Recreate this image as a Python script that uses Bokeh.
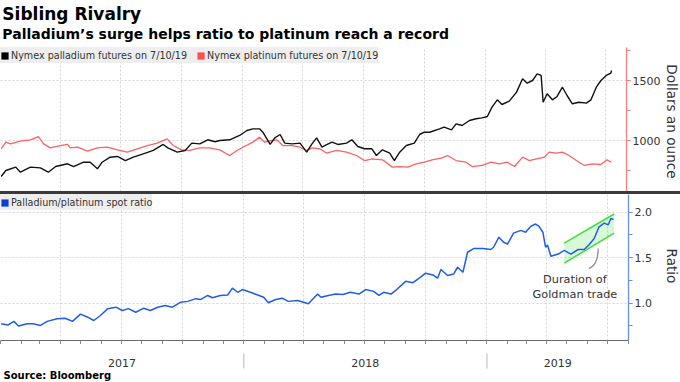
from datetime import datetime
from math import pi, nan
import pandas as pd
from bokeh.plotting import figure
from bokeh.models import (Range1d, ColumnDataSource, FixedTicker, SingleIntervalTicker,
                          Legend, LegendItem, Div, NumeralTickFormatter)
from bokeh.layouts import column, row
from bokeh.embed import file_html
from bokeh.resources import INLINE
from bokeh.core.properties import value

# ---------------- data ----------------
pd_dates = ["2017-01-02", "2017-01-09", "2017-01-24", "2017-01-31", "2017-02-15", "2017-03-02",
            "2017-03-14", "2017-03-25", "2017-04-12", "2017-04-21", "2017-05-06", "2017-05-16",
            "2017-05-27", "2017-06-03", "2017-06-15", "2017-06-26", "2017-07-08", "2017-07-20",
            "2017-08-04", "2017-08-19", "2017-09-03", "2017-09-10", "2017-09-24", "2017-10-06",
            "2017-10-16", "2017-10-28", "2017-11-09", "2017-11-20", "2017-11-27", "2017-12-12",
            "2017-12-27", "2018-01-07", "2018-01-16", "2018-01-26", "2018-01-31", "2018-02-11",
            "2018-02-18", "2018-02-26", "2018-03-05", "2018-03-16", "2018-03-28", "2018-04-07",
            "2018-04-15", "2018-04-22", "2018-04-30", "2018-05-04", "2018-05-15", "2018-05-24",
            "2018-06-06", "2018-06-14", "2018-06-23", "2018-07-03", "2018-07-14", "2018-07-21",
            "2018-07-30", "2018-08-10", "2018-08-17", "2018-08-25", "2018-09-04", "2018-09-16",
            "2018-09-24", "2018-10-01", "2018-10-09", "2018-10-24", "2018-10-31", "2018-11-11",
            "2018-11-18", "2018-11-27", "2018-12-08", "2018-12-18", "2018-12-27", "2019-01-04",
            "2019-01-11", "2019-01-19", "2019-01-26", "2019-02-06", "2019-02-17", "2019-02-26",
            "2019-03-05", "2019-03-13", "2019-03-20", "2019-03-26", "2019-03-29", "2019-04-04",
            "2019-04-12", "2019-04-19", "2019-04-27", "2019-05-04", "2019-05-12", "2019-05-22",
            "2019-06-02", "2019-06-09", "2019-06-17", "2019-06-24", "2019-07-02", "2019-07-09",
            "2019-07-10"]
pd_values = [700, 750, 778, 736, 778, 772, 736, 783, 806, 783, 819, 819,
             764, 819, 861, 867, 833, 861, 889, 917, 967, 939, 903, 917,
             978, 972, 1006, 990, 1000, 1006, 1042, 1083, 1097, 1097, 1069, 967,
             1022, 1050, 978, 972, 978, 903, 972, 1022, 944, 958, 986, 967,
             978, 1006, 950, 931, 931, 875, 922, 894, 833, 903, 958, 978,
             1050, 1069, 1069, 1097, 1111, 1089, 1139, 1125, 1167, 1181, 1189, 1200,
             1278, 1339, 1300, 1328, 1403, 1514, 1478, 1500, 1556, 1542, 1319, 1389,
             1339, 1367, 1444, 1375, 1306, 1319, 1311, 1339, 1444, 1500, 1542, 1561,
             1583]

pt_dates = ["2017-01-02", "2017-01-09", "2017-01-16", "2017-01-31", "2017-02-15", "2017-02-27",
            "2017-03-07", "2017-03-17", "2017-04-01", "2017-04-12", "2017-04-16", "2017-04-27",
            "2017-05-12", "2017-05-27", "2017-06-11", "2017-06-26", "2017-07-11", "2017-07-26",
            "2017-08-10", "2017-08-25", "2017-09-09", "2017-09-18", "2017-10-01", "2017-10-13",
            "2017-10-28", "2017-11-12", "2017-11-27", "2017-12-12", "2017-12-23", "2018-01-01",
            "2018-01-16", "2018-01-26", "2018-02-03", "2018-02-14", "2018-02-21", "2018-03-02",
            "2018-03-16", "2018-03-28", "2018-04-07", "2018-04-16", "2018-04-27", "2018-05-07",
            "2018-05-22", "2018-06-06", "2018-06-21", "2018-07-03", "2018-07-15", "2018-07-30",
            "2018-08-14", "2018-08-25", "2018-09-06", "2018-09-19", "2018-10-01", "2018-10-13",
            "2018-10-28", "2018-11-05", "2018-11-18", "2018-12-03", "2018-12-12", "2018-12-27",
            "2019-01-10", "2019-01-22", "2019-02-03", "2019-02-14", "2019-02-26", "2019-03-08",
            "2019-03-19", "2019-03-31", "2019-04-07", "2019-04-18", "2019-04-27", "2019-05-07",
            "2019-05-18", "2019-05-30", "2019-06-11", "2019-06-24", "2019-07-03", "2019-07-10"]
pt_values = [930, 986, 972, 994, 1006, 1033, 972, 939, 958, 967, 939, 944,
             911, 939, 944, 922, 903, 931, 958, 978, 1014, 958, 922, 917,
             939, 939, 922, 875, 917, 944, 986, 1028, 986, 1000, 1006, 958,
             958, 944, 917, 939, 931, 894, 917, 903, 875, 833, 847, 839,
             778, 783, 778, 806, 819, 839, 856, 875, 833, 819, 783, 792,
             819, 806, 819, 783, 861, 833, 847, 861, 903, 894, 903, 875,
             833, 792, 806, 800, 839, 819]

ratio_dates = ["2017-01-02", "2017-01-12", "2017-01-21", "2017-01-28", "2017-02-10", "2017-02-19",
               "2017-03-02", "2017-03-12", "2017-03-27", "2017-04-08", "2017-04-19", "2017-05-01",
               "2017-05-12", "2017-05-21", "2017-05-31", "2017-06-11", "2017-06-23", "2017-07-03",
               "2017-07-12", "2017-07-23", "2017-08-04", "2017-08-14", "2017-08-25", "2017-09-05",
               "2017-09-16", "2017-09-28", "2017-10-09", "2017-10-21", "2017-10-28", "2017-11-08",
               "2017-11-15", "2017-11-27", "2017-12-08", "2017-12-15", "2017-12-23", "2017-12-30",
               "2018-01-11", "2018-01-22", "2018-01-31", "2018-02-07", "2018-02-18", "2018-02-28",
               "2018-03-09", "2018-03-23", "2018-04-01", "2018-04-08", "2018-04-22", "2018-04-27",
               "2018-05-08", "2018-05-19", "2018-05-30", "2018-06-10", "2018-06-23", "2018-07-03",
               "2018-07-15", "2018-07-23", "2018-07-30", "2018-08-10", "2018-08-17", "2018-09-01",
               "2018-09-12", "2018-09-24", "2018-10-01", "2018-10-12", "2018-10-19", "2018-10-24",
               "2018-11-03", "2018-11-12", "2018-11-18", "2018-11-26", "2018-12-03", "2018-12-12",
               "2018-12-26", "2019-01-07", "2019-01-11", "2019-01-19", "2019-01-26", "2019-02-01",
               "2019-02-10", "2019-02-21", "2019-02-28", "2019-03-08", "2019-03-15", "2019-03-20",
               "2019-03-26", "2019-03-30", "2019-04-02", "2019-04-07", "2019-04-18", "2019-04-27",
               "2019-05-07", "2019-05-18", "2019-05-27", "2019-06-03", "2019-06-11", "2019-06-18",
               "2019-06-26", "2019-07-02", "2019-07-06", "2019-07-10"]
ratio_values = [0.774, 0.76, 0.80, 0.75, 0.774, 0.774, 0.755, 0.80, 0.83, 0.835, 0.80, 0.88,
                0.846, 0.81, 0.865, 0.94, 0.956, 0.92, 0.94, 0.90, 0.945, 0.92, 0.956, 0.975,
                0.956, 1.01, 1.02, 1.05, 1.04, 1.085, 1.06, 1.085, 1.09, 1.165, 1.12, 1.15,
                1.12, 1.09, 1.065, 1.005, 1.04, 1.055, 1.02, 1.03, 1.01, 0.993, 1.10, 1.065,
                1.085, 1.10, 1.095, 1.12, 1.10, 1.15, 1.13, 1.085, 1.12, 1.10, 1.14, 1.24,
                1.225, 1.29, 1.33, 1.31, 1.275, 1.37, 1.305, 1.32, 1.395, 1.34, 1.56, 1.60,
                1.60, 1.59, 1.615, 1.725, 1.67, 1.65, 1.77, 1.80, 1.78, 1.846, 1.87, 1.846,
                1.78, 1.615, 1.64, 1.515, 1.54, 1.58, 1.54, 1.59, 1.59, 1.64, 1.71, 1.835,
                1.88, 1.86, 1.93, 1.92]

trade_dates = ["2019-04-27", "2019-07-11"]
trade_upper = [1.66, 1.98]
trade_lower = [1.44, 1.77]

note_lines = ["Duration of", "Goldman trade"]
year_labels = ["2017", "2018", "2019"]

title_text = "Sibling Rivalry"
subtitle_text = "Palladium\u2019s surge helps ratio to platinum reach a record"
source_text = "Source: Bloomberg"
pd_label = "Nymex palladium futures on 7/10/19"
pt_label = "Nymex platinum futures on 7/10/19"
ratio_label = "Palladium/platinum spot ratio"
top_axis_title = "Dollars an ounce"
bot_axis_title = "Ratio"

# ---------------- styling ----------------
FONT = "DejaVu Sans"
TXT = "#333333"
GRID = "#d6d6d6"
PD_COLOR = "#111111"
PT_COLOR = "#ff6060"
RATIO_COLOR = "#1f5ee6"
W = 680          # page width
FRAME_W = 628    # plot area width
SIDE = 17        # strip holding the rotated axis titles
PANEL_W = W - SIDE

x_start = datetime(2017, 1, 1)
x_end = datetime(2019, 8, 1, 12)
xr = Range1d(start=x_start, end=x_end)

month_ticks = [d.timestamp() * 1000 for d in pd.date_range("2017-01-01", "2019-08-01", freq="MS")]
quarter_ticks = [d.timestamp() * 1000 for d in pd.date_range("2017-04-01", "2019-08-01", freq="QS")]

to_dt = lambda lst: pd.to_datetime(pd.Series(lst))


def plain_fig(width, height, xrng, yrng, **kw):
    f = figure(width=width, height=height, x_range=xrng, y_range=yrng,
               output_backend="svg", toolbar_location=None,
               x_axis_location=None, y_axis_location=None, outline_line_color=None,
               background_fill_color="white", border_fill_color="white", **kw)
    f.grid.visible = False
    return f


def style_grid(f):
    f.xgrid.ticker = FixedTicker(ticks=quarter_ticks)
    for g in (f.xgrid[0], f.ygrid[0]):
        g.grid_line_color = GRID
        g.grid_line_dash = "2 2"
        g.grid_line_width = 1


def style_right_axis(ax, color):
    ax.axis_line_color = color
    ax.axis_line_width = 1.3
    ax.major_tick_line_color = color
    ax.minor_tick_line_color = color
    ax.major_tick_in = 0
    ax.major_tick_out = 4
    ax.minor_tick_in = 0
    ax.minor_tick_out = 4
    ax.major_label_standoff = 2
    ax.major_label_text_font = FONT
    ax.major_label_text_font_size = "11px"
    ax.major_label_text_color = TXT


def side_title(text, height, yc):
    f = plain_fig(SIDE, height, Range1d(0, SIDE), Range1d(0, height), min_border=0)
    f.text(x=[8], y=[yc], text=[text], angle=-pi / 2, text_align="center",
           text_baseline="middle", text_font=value(FONT), text_font_size="13.6px",
           text_color=TXT)
    return f


def make_legend(items):
    return Legend(items=items, location="top_left", orientation="horizontal",
                  background_fill_color="#eeeeee", background_fill_alpha=1,
                  border_line_color=None, margin=0, padding=3, spacing=9,
                  glyph_width=9, glyph_height=9, label_standoff=2, label_height=16,
                  label_text_font=FONT, label_text_font_size="9.6px", label_text_color=TXT)


# ---------------- title ----------------
ttl = plain_fig(W, 45, Range1d(0, W), Range1d(0, 45), min_border=0)
ttl.text(x=[2], y=[31.4], text=[title_text], text_font=value(FONT), text_font_style="bold",
         text_font_size="17px", text_color="#000000", text_baseline="middle")
ttl.text(x=[2], y=[11.8], text=[subtitle_text], text_font=value(FONT), text_font_style="bold",
         text_font_size="14px", text_color="#000000", text_baseline="middle")

# ---------------- top panel ----------------
top = figure(width=PANEL_W, height=146, x_range=xr, y_range=Range1d(575, 1775),
             x_axis_type="datetime", x_axis_location=None, y_axis_location="right",
             output_backend="svg", toolbar_location=None, outline_line_color=None,
             min_border_left=0, min_border_right=PANEL_W - FRAME_W,
             min_border_top=2, min_border_bottom=0)
style_grid(top)
top.yaxis.ticker = SingleIntervalTicker(interval=500, num_minor_ticks=2)
style_right_axis(top.yaxis[0], "#ff8080")

src_pt = ColumnDataSource(dict(x=to_dt(pt_dates), y=pt_values))
src_pd = ColumnDataSource(dict(x=to_dt(pd_dates), y=pd_values))
top.line("x", "y", source=src_pt, line_color=PT_COLOR, line_width=1.3)
top.line("x", "y", source=src_pd, line_color=PD_COLOR, line_width=1.4)

# legend swatches (renderers hold no visible mark)
leg_pd = top.quad(left=[nan], right=[nan], top=[nan], bottom=[nan], fill_color="#000000", line_color=None)
leg_pt = top.quad(left=[nan], right=[nan], top=[nan], bottom=[nan], fill_color="#ff5050", line_color=None)
top.add_layout(make_legend([LegendItem(label=pd_label, renderers=[leg_pd]),
                            LegendItem(label=pt_label, renderers=[leg_pt])]))
top_side = side_title(top_axis_title, 146, 71)

# ---------------- separator ----------------
sep = Div(width=W, height=3, margin=0, styles={"background-color": "#3a3a3a"})

# ---------------- bottom panel ----------------
bot = figure(width=PANEL_W, frame_height=146, x_range=xr, y_range=Range1d(0.590, 2.1945),
             x_axis_type="datetime", y_axis_location="right",
             output_backend="svg", toolbar_location=None, outline_line_color=None,
             min_border_left=0, min_border_right=PANEL_W - FRAME_W,
             min_border_top=0, min_border_bottom=0)
style_grid(bot)
bot.yaxis.ticker = SingleIntervalTicker(interval=0.5, num_minor_ticks=2)
bot.yaxis.formatter = NumeralTickFormatter(format="0.0")
style_right_axis(bot.yaxis[0], "#6a8eee")

xa = bot.xaxis[0]
xa.ticker = FixedTicker(ticks=[], minor_ticks=month_ticks)
xa.axis_line_color = "#6a6a6a"
xa.minor_tick_line_color = "#8a8a8a"
xa.major_tick_in = 0
xa.major_tick_out = 4
xa.minor_tick_in = 0
xa.minor_tick_out = 4
xa.major_label_standoff = 0

src_tr = ColumnDataSource(dict(x=to_dt(trade_dates), lo=trade_lower, hi=trade_upper))
bot.varea(x="x", y1="lo", y2="hi", source=src_tr, fill_color="#3fdc3f", fill_alpha=0.2)
bot.line("x", "hi", source=src_tr, line_color="#3ee03e", line_width=1.6)
bot.line("x", "lo", source=src_tr, line_color="#3ee03e", line_width=1.6)

src_r = ColumnDataSource(dict(x=to_dt(ratio_dates), y=ratio_values))
bot.line("x", "y", source=src_r, line_color=RATIO_COLOR, line_width=1.5)

# leader from the channel to the note
bot.quadratic(x0=[datetime(2019, 6, 17)], y0=[1.60], x1=[datetime(2019, 6, 3)], y1=[1.38],
              cx=[datetime(2019, 6, 17)], cy=[1.42], line_color="#8c8c8c", line_width=1.3)
bot.text(x=[datetime(2019, 5, 13)] * 2, y=[1.262, 1.095], text=note_lines,
         text_font=value(FONT), text_font_size="11.3px", text_color=TXT,
         text_align="center", text_baseline="middle")

leg_r = bot.quad(left=[nan], right=[nan], top=[nan], bottom=[nan], fill_color="#0a3fd6", line_color=None)
bot.add_layout(make_legend([LegendItem(label=ratio_label, renderers=[leg_r])]))
bot_side = side_title(bot_axis_title, 146, 72.5)

# ---------------- footer: year labels and source ----------------
foot = plain_fig(W, 37, xr, Range1d(0, 37), min_border_left=0, min_border_right=W - FRAME_W,
                 min_border_top=0, min_border_bottom=0)
year_starts = [datetime(int(y), 1, 1) for y in year_labels]
year_ends = year_starts[1:] + [x_end]
year_mid = [a + (b - a) / 2 for a, b in zip(year_starts, year_ends)]
foot.text(x=year_mid, y=[19] * 3, text=year_labels, text_font=value(FONT),
          text_font_size="11px", text_color=TXT, text_align="center", text_baseline="middle")
foot.segment(x0=year_starts[1:], y0=[28, 28], x1=year_starts[1:], y1=[13, 13],
             line_color="#cfcfcf", line_width=1.5)
foot.text(x=[x_start], y=[6], text=[source_text], x_offset=3, text_font=value(FONT),
          text_font_style="bold", text_font_size="10px", text_color="#000000",
          text_baseline="middle")

layout = column(ttl, row(top, top_side, spacing=0), sep, row(bot, bot_side, spacing=0), foot,
                spacing=0)
open("out.html", "w").write(file_html(layout, INLINE))
